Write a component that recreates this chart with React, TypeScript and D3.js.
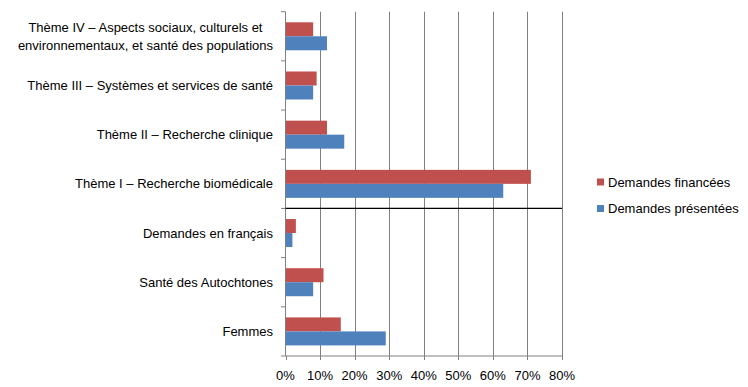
import React, { useEffect, useRef } from "react";
import * as d3 from "d3";

const categories = [
  "Thème IV – Aspects sociaux, culturels et environnementaux, et santé des populations",
  "Thème III – Systèmes et services de santé",
  "Thème II – Recherche clinique",
  "Thème I – Recherche biomédicale",
  "Demandes en français",
  "Santé des Autochtones",
  "Femmes",
];
const categoryLines = [
  ["Thème IV – Aspects sociaux, culturels et", "environnementaux, et santé des populations"],
  ["Thème III – Systèmes et services de santé"],
  ["Thème II – Recherche clinique"],
  ["Thème I – Recherche biomédicale"],
  ["Demandes en français"],
  ["Santé des Autochtones"],
  ["Femmes"],
];
const seriesNames = ["Demandes financées", "Demandes présentées"];
const financees = [8, 9, 12, 71, 3, 11, 16];
const presentees = [12, 8, 17, 63, 2, 8, 29];
const xTicks = [0, 10, 20, 30, 40, 50, 60, 70, 80];
const separatorAfter = "Thème I – Recherche biomédicale";

const COLORS = ["#C0504D", "#4F81BD"];
const FONT = "'Liberation Sans', Arial, sans-serif";
const FS = 13;

export default function App() {
  const ref = useRef<SVGSVGElement>(null);
  useEffect(() => {
    const svg = d3.select(ref.current);
    svg.selectAll("*").remove();
    const left = 285.5, right = 562, top = 11.7, bottom = 356;
    const x = d3.scaleLinear().domain([0, 80]).range([left, right]);
    const y = d3.scaleBand<string>().domain(categories).range([top, bottom]).padding(0);
    const sub = d3.scaleBand<string>().domain(seriesNames).range([0, y.bandwidth()]).paddingInner(0).paddingOuter(0.757);
    const g = svg.append("g");

    // gridlines
    g.selectAll("line.grid").data(xTicks.slice(1)).enter().append("line")
      .attr("x1", d => Math.round(x(d)) + 0.5).attr("x2", d => Math.round(x(d)) + 0.5)
      .attr("y1", top).attr("y2", bottom)
      .attr("stroke", "#808080").attr("stroke-width", 1);

    // bars
    const series = [financees, presentees];
    series.forEach((vals, si) => {
      g.selectAll(`rect.s${si}`).data(vals).enter().append("rect")
        .attr("x", x(0))
        .attr("y", (_, i) => (y(categories[i]) as number) + (sub(seriesNames[si]) as number))
        .attr("width", d => x(d) - x(0))
        .attr("height", sub.bandwidth())
        .attr("fill", COLORS[si]);
    });

    // axes lines
    g.append("line").attr("x1", x(0)).attr("x2", x(0)).attr("y1", top).attr("y2", bottom)
      .attr("stroke", "#808080");
    g.append("line").attr("x1", x(0)).attr("x2", x(80) + 0.5).attr("y1", bottom).attr("y2", bottom)
      .attr("stroke", "#808080");
    // left ticks at band boundaries
    const bounds = categories.map(c => y(c) as number).concat([bottom]);
    g.selectAll("line.lt").data(bounds).enter().append("line")
      .attr("x1", x(0) - 4.5).attr("x2", x(0)).attr("y1", d => d).attr("y2", d => d)
      .attr("stroke", "#808080");
    // bottom ticks
    g.selectAll("line.bt").data(xTicks).enter().append("line")
      .attr("x1", d => Math.round(x(d)) + 0.5).attr("x2", d => Math.round(x(d)) + 0.5)
      .attr("y1", bottom).attr("y2", bottom + 4)
      .attr("stroke", "#808080");

    // separator
    const sepY = (y(separatorAfter) as number) + y.bandwidth();
    g.append("line").attr("x1", x(0)).attr("x2", x(80)).attr("y1", sepY).attr("y2", sepY)
      .attr("stroke", "#000").attr("stroke-width", 1.3);

    // x tick labels
    g.selectAll("text.xt").data(xTicks).enter().append("text")
      .attr("x", d => x(d)).attr("y", 380)
      .attr("text-anchor", "middle")
      .attr("font-family", FONT).attr("font-size", FS).attr("fill", "#000")
      .text(d => `${d}%`);

    // category labels
    const labelRight = 273;
    categoryLines.forEach((lines, i) => {
      const cy = (y(categories[i]) as number) + y.bandwidth() / 2;
      const lh = 18;
      const texts = lines.map((ln, li) =>
        g.append("text")
          .attr("y", cy + (li - (lines.length - 1) / 2) * lh + 4.5)
          .attr("text-anchor", "middle")
          .attr("font-family", FONT).attr("font-size", FS).attr("fill", "#000")
          .text(ln)
      );
      const widths = texts.map(t => (t.node() as SVGTextElement).getComputedTextLength());
      const maxW = Math.max(...widths);
      texts.forEach(t => t.attr("x", labelRight - maxW / 2));
    });

    // legend
    const legY = [182, 208.5];
    seriesNames.forEach((nm, si) => {
      g.append("rect").attr("x", 597).attr("y", legY[si] - 3.5).attr("width", 7).attr("height", 7)
        .attr("fill", COLORS[si]);
      g.append("text").attr("x", 608).attr("y", legY[si] + 4.5)
        .attr("font-family", FONT).attr("font-size", FS).attr("fill", "#000")
        .text(nm);
    });
  }, []);
  return (
    <div style={{ position: "absolute", left: 0, top: 0 }}>
      <svg ref={ref} width={748} height={387} style={{ display: "block", background: "#fff" }} />
    </div>
  );
}
